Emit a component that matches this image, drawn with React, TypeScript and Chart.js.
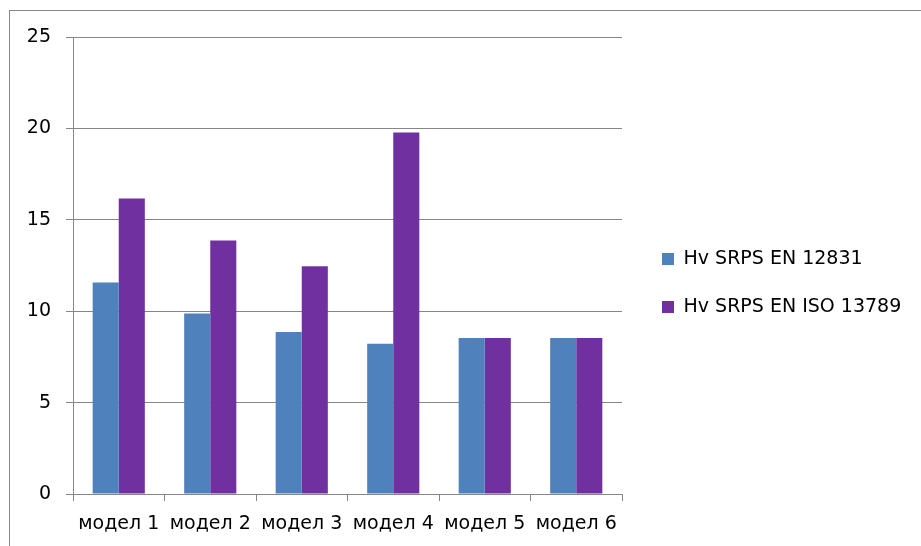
import React, { useEffect, useRef } from 'react';
import { Chart, registerables } from 'chart.js';

Chart.register(...registerables);

const categories = ['модел 1', 'модел 2', 'модел 3', 'модел 4', 'модел 5', 'модел 6'];
const seriesNames = ['Hv SRPS EN 12831', 'Hv SRPS EN ISO 13789'];
const en12831 = [11.57, 9.87, 8.86, 8.22, 8.53, 8.53];
const iso13789 = [16.17, 13.87, 12.46, 19.77, 8.53, 8.53];
const yMin = 0;
const yMax = 25;
const yStep = 5;

const FONT = { family: "'DejaVu Sans', sans-serif", size: 19 };
const GRID = '#868686';

const legendPlace = {
  id: 'legendPlace',
  beforeLayout(chart: any) {
    const lg = chart.legend;
    if (!lg || lg.__wrapped) return;
    const orig = lg.fit.bind(lg);
    lg.fit = function () {
      orig();
      this.width = 299;
    };
    lg.__wrapped = true;
  },
  afterLayout(chart: any) {
    const lg = chart.legend;
    if (!lg) return;
    const w = lg.right - lg.left;
    lg.left = 633;
    lg.right = 633 + w;
    const h = lg.bottom - lg.top;
    lg.top = 283 - h / 2;
    lg.bottom = 283 + h / 2;
  },
};

export default function App() {
  const ref = useRef<HTMLCanvasElement>(null);
  useEffect(() => {
    const chart = new Chart(ref.current as HTMLCanvasElement, {
      type: 'bar',
      data: {
        labels: categories,
        datasets: [
          { label: seriesNames[0], data: en12831, backgroundColor: '#4F81BD', borderWidth: 0 },
          { label: seriesNames[1], data: iso13789, backgroundColor: '#7030A0', borderWidth: 0 },
        ],
      },
      plugins: [legendPlace],
      options: {
        responsive: false,
        animation: false,
        devicePixelRatio: 1,
        categoryPercentage: 0.57,
        barPercentage: 1,
        layout: { padding: { top: 37, left: 0, right: 0, bottom: 0 } },
        plugins: {
          tooltip: { enabled: false },
          legend: {
            position: 'right',
            labels: { boxWidth: 12, boxHeight: 12, padding: 29, color: '#000', font: FONT },
          },
        },
        scales: {
          x: {
            grid: { offset: true, drawOnChartArea: false, drawTicks: true, tickLength: 7, color: GRID },
            border: { color: GRID, width: 1 },
            ticks: { color: '#000', font: FONT, padding: 12, maxRotation: 0, autoSkip: false },
            afterFit: (s: any) => { s.height = 52; },
          },
          y: {
            min: yMin,
            max: yMax,
            ticks: { stepSize: yStep, padding: 15, color: '#000', font: FONT },
            grid: { color: GRID, tickLength: 7 },
            border: { color: GRID, width: 1 },
            afterFit: (s: any) => { s.width = 73; },
          },
        },
      } as any,
    });
    return () => chart.destroy();
  }, []);
  return (
    <div style={{ position: 'absolute', left: 0, top: 0, width: 921, height: 546, background: '#fff', overflow: 'hidden' }}>
      <div style={{ position: 'absolute', left: 9, top: 10, width: 1000, height: 1000, border: '1px solid #878787', boxSizing: 'border-box' }} />
      <canvas ref={ref} width={921} height={546} style={{ position: 'absolute', left: 0, top: 0, width: 921, height: 546 }} />
    </div>
  );
}
